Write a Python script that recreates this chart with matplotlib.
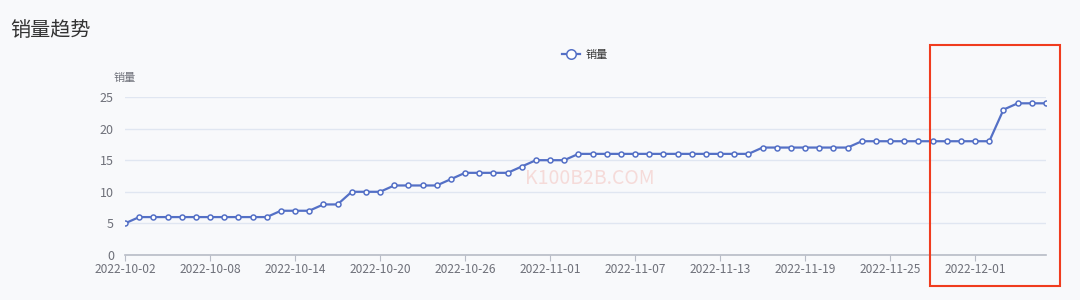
import numpy as np
import pandas as pd
import matplotlib
matplotlib.use('Agg')
import matplotlib.pyplot as plt
import matplotlib.dates as mdates
from matplotlib.patches import Rectangle

plt.rcParams['font.family'] = ['Noto Sans CJK SC', 'DejaVu Sans']

# Data (one value per day).
dates = pd.date_range('2022-10-02', '2022-12-06', freq='D')
sales = [5, 6, 6, 6, 6, 6, 6, 6, 6, 6, 6,
         7, 7, 7, 8, 8, 10, 10, 10, 11, 11, 11, 11, 12,
         13, 13, 13, 13, 14, 15, 15, 15,
         16, 16, 16, 16, 16, 16, 16, 16, 16, 16, 16, 16, 16,
         17, 17, 17, 17, 17, 17, 17,
         18, 18, 18, 18, 18, 18, 18, 18, 18, 18,
         23, 24, 24, 24]
tick_dates = pd.date_range('2022-10-02', '2022-12-06', freq='6D')

BG = '#f8f9fb'
LINE = '#5470c6'
GRAY = '#6e7079'

fig = plt.figure(figsize=(10.8, 3.0), dpi=100, facecolor=BG)
ax = fig.add_axes([125 / 1080, 0.15, (1046 - 125) / 1080, 0.5267])
ax.set_facecolor(BG)

ax.plot(dates, sales, color=LINE, lw=1.6, marker='o', ms=3.6,
        mfc='white', mec=LINE, mew=1.1, label='销量', zorder=3)

ax.set_xlim(dates[0], dates[-1])
ax.set_ylim(0, 25)
ax.set_yticks([0, 5, 10, 15, 20, 25])
ax.set_xticks(tick_dates)
ax.xaxis.set_major_formatter(mdates.DateFormatter('%Y-%m-%d'))
ax.grid(axis='y', color='#e0e6f1', lw=1)
ax.set_axisbelow(True)

for s in ['top', 'right', 'left']:
    ax.spines[s].set_visible(False)
ax.spines['bottom'].set_color('#b8bcc6')
ax.spines['bottom'].set_linewidth(1.2)
ax.tick_params(axis='y', length=0, colors=GRAY, labelsize=9, pad=8)
ax.tick_params(axis='x', length=4, color='#b8bcc6', colors=GRAY,
               labelsize=8.6, pad=2)

fig.text(10 / 1080, 1 - 30 / 300, '销量趋势', fontsize=14.5, color='#333333',
         va='center', ha='left')
fig.text(125 / 1080, 1 - 78 / 300, '销量', fontsize=8, color=GRAY,
         va='center', ha='center')
fig.text(590 / 1080, 1 - 178 / 300, 'K100B2B.COM', fontsize=14,
         color='#f4c7c3', alpha=0.6, va='center', ha='center')

ax.legend(loc='center', bbox_to_anchor=(585 / 1080, 1 - 55 / 300),
          bbox_transform=fig.transFigure, frameon=False, fontsize=8,
          handlelength=1.6, handletextpad=0.5, labelcolor='#333333',
          markerscale=1.9)

fig.patches.append(Rectangle((930 / 1080, 1 - 286 / 300), 130 / 1080,
                             241 / 300, transform=fig.transFigure,
                             fill=False, ec='#f03c1e', lw=1.5))

fig.savefig('out.png', dpi=100, facecolor=BG)
